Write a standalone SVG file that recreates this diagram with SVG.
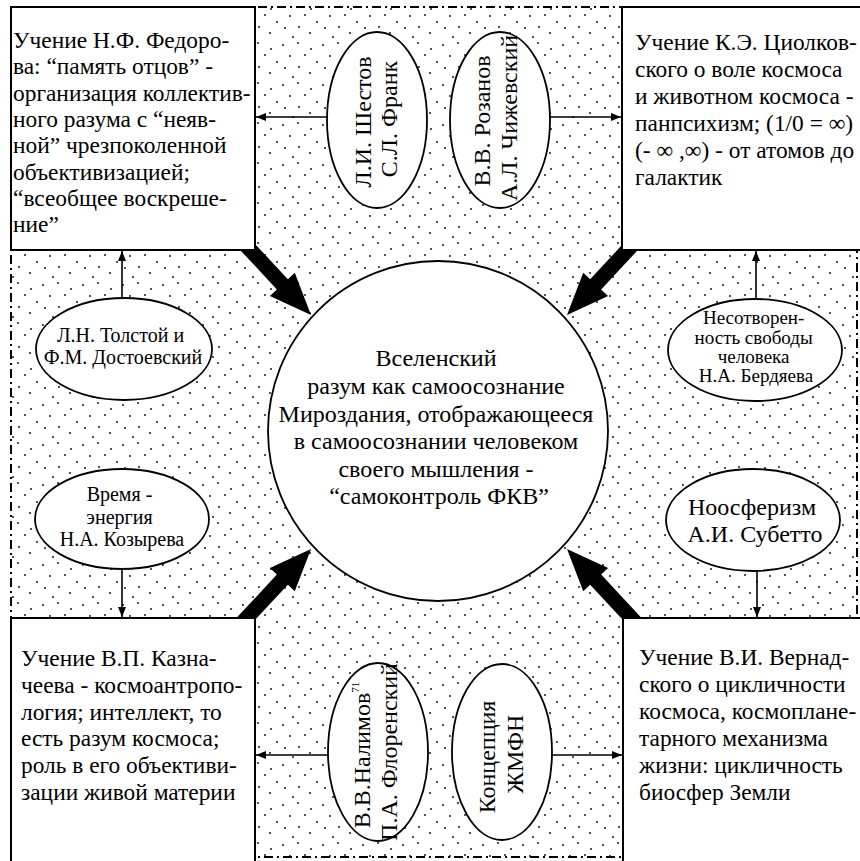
<svg xmlns="http://www.w3.org/2000/svg" xmlns:xlink="http://www.w3.org/1999/xlink" width="860" height="861" viewBox="0 0 860 861">
<style>
.box{fill:#fff;stroke:#000;stroke-width:2}
.ell{fill:#fff;stroke:#000;stroke-width:1.8}
.t{font-family:"Liberation Serif","Times New Roman",serif;fill:#000}
.b24{font-size:24px}
.bx{font-size:23.4px}
.b20{font-size:20px}
.b19{font-size:19px}
.mid{text-anchor:middle}
.thin{stroke:#000;stroke-width:1.6;fill:none;marker-end:url(#ah)}
.frame{fill:url(#dots);stroke:#000;stroke-width:2;stroke-dasharray:9 4 2 4}
</style>
<defs>
<pattern id="dots" patternUnits="userSpaceOnUse" width="40" height="40">
<g fill="#000">
<circle cx="3" cy="5" r="0.9"/><circle cx="18" cy="3" r="0.9"/><circle cx="31" cy="9" r="0.9"/>
<circle cx="10" cy="16" r="0.9"/><circle cx="25" cy="15" r="0.9"/><circle cx="37" cy="22" r="0.9"/>
<circle cx="5" cy="28" r="0.9"/><circle cx="19" cy="27" r="0.9"/><circle cx="30" cy="33" r="0.9"/>
<circle cx="13" cy="37" r="0.9"/>
</g>
</pattern>
<marker id="ah" markerUnits="userSpaceOnUse" markerWidth="10" markerHeight="8" refX="10" refY="4" orient="auto">
<path d="M0,0 L10,4 L0,8 Z" fill="#000"/>
</marker>
<path id="fat" d="M0,0 L-42,-17 L-42,-7.5 L-100,-7.5 L-100,7.5 L-42,7.5 L-42,17 Z" fill="#000"/>
</defs>
<rect width="860" height="861" fill="#fff"/>
<rect class="frame" x="11" y="7" width="846" height="850"/>

<g id="connectors">
<line class="thin" x1="327" y1="117" x2="256" y2="117"/>
<line class="thin" x1="550" y1="117" x2="621" y2="117"/>
<line class="thin" x1="328" y1="755" x2="256" y2="755"/>
<line class="thin" x1="552" y1="755" x2="622" y2="755"/>
<line class="thin" x1="122" y1="298" x2="122" y2="251"/>
<line class="thin" x1="122" y1="570" x2="122" y2="617"/>
<line class="thin" x1="756" y1="299" x2="756" y2="251"/>
<line class="thin" x1="757" y1="571" x2="757" y2="617"/>
<use href="#fat" transform="translate(311,315) rotate(47)"/>
<use href="#fat" transform="translate(567,315) rotate(133)"/>
<use href="#fat" transform="translate(311,549) rotate(-47)"/>
<use href="#fat" transform="translate(567,549) rotate(-133)"/>
</g>

<g id="node-fedorov">
<rect class="box" x="11" y="7" width="244" height="243"/>
<text class="t bx">
<tspan x="13" y="48">Учение Н.Ф. Федоро-</tspan>
<tspan x="13" y="74.3">ва: “память отцов” -</tspan>
<tspan x="13" y="100.6">организация коллектив-</tspan>
<tspan x="13" y="126.9">ного разума с “неяв-</tspan>
<tspan x="13" y="153.2">ной” чрезпоколенной</tspan>
<tspan x="13" y="179.5">объективизацией;</tspan>
<tspan x="13" y="205.8">“всеобщее воскреше-</tspan>
<tspan x="13" y="232">ние”</tspan>
</text>
</g>

<g id="node-tsiolkovsky">
<rect class="box" x="622" y="7" width="260" height="243"/>
<text class="t bx">
<tspan x="635" y="50">Учение К.Э. Циолков-</tspan>
<tspan x="635" y="77">ского о воле космоса</tspan>
<tspan x="635" y="104">и животном космоса -</tspan>
<tspan x="635" y="131">панпсихизм; (1/0 = ∞)</tspan>
<tspan x="635" y="158">(- ∞ ,∞) - от атомов до</tspan>
<tspan x="635" y="185">галактик</tspan>
</text>
</g>

<g id="node-kaznacheev">
<rect class="box" x="11" y="618" width="244" height="260"/>
<text class="t bx">
<tspan x="21" y="666">Учение В.П. Казна-</tspan>
<tspan x="21" y="693">чеева - космоантропо-</tspan>
<tspan x="21" y="719.5">логия; интеллект, то</tspan>
<tspan x="21" y="746">есть разум космоса;</tspan>
<tspan x="21" y="773">роль в его объективи-</tspan>
<tspan x="21" y="800">зации живой материи</tspan>
</text>
</g>

<g id="node-vernadsky">
<rect class="box" x="623" y="618" width="260" height="260"/>
<text class="t bx">
<tspan x="639" y="665">Учение В.И. Вернад-</tspan>
<tspan x="639" y="692">ского о цикличности</tspan>
<tspan x="639" y="719">космоса, космоплане-</tspan>
<tspan x="639" y="746">тарного механизма</tspan>
<tspan x="639" y="773">жизни: цикличность</tspan>
<tspan x="639" y="800">биосфер Земли</tspan>
</text>
</g>

<g id="node-center">
<circle class="ell" cx="438" cy="431" r="170"/>
<text class="t b24 mid">
<tspan x="439" y="366">Вселенский</tspan>
<tspan x="439" y="394">разум как самоосознание</tspan>
<tspan x="439" y="421.5">Мироздания, отображающееся</tspan>
<tspan x="439" y="449">в самоосознании человеком</tspan>
<tspan x="439" y="477">своего мышления -</tspan>
<tspan x="439" y="504">“самоконтроль ФКВ”</tspan>
</text>
</g>

<g id="node-shestov">
<ellipse class="ell" cx="377" cy="120" rx="50" ry="88"/>
<text class="t b24 mid" transform="translate(371,119) rotate(-90)">
<tspan x="0" y="0">Л.И. Шестов</tspan>
<tspan x="0" y="26">С.Л. Франк</tspan>
</text>
</g>

<g id="node-rozanov">
<ellipse class="ell" cx="500" cy="120" rx="50" ry="88"/>
<text class="t b24 mid" transform="translate(490,118) rotate(-90)">
<tspan x="0" y="0">В.В. Розанов</tspan>
<tspan x="0" y="27">А.Л. Чижевский</tspan>
</text>
</g>

<g id="node-nalimov">
<ellipse class="ell" cx="378" cy="752" rx="50" ry="89"/>
<text class="t b24 mid" transform="translate(370,752) rotate(-90)">
<tspan x="0" y="0">В.В.Налимов<tspan font-size="11" dy="-11">71</tspan></tspan>
<tspan x="0" y="27">П.А. Флоренский</tspan>
</text>
</g>

<g id="node-zhmfn">
<ellipse class="ell" cx="502" cy="752" rx="50" ry="88"/>
<text class="t b24 mid" transform="translate(495,754) rotate(-90)">
<tspan x="0" y="0">Концепция</tspan>
<tspan x="0" y="28">ЖМФН</tspan>
</text>
</g>

<g id="node-tolstoy">
<ellipse class="ell" cx="124" cy="349" rx="88" ry="51"/>
<text class="t b20 mid">
<tspan x="123" y="342">Л.Н. Толстой и</tspan>
<tspan x="123" y="364">Ф.М. Достоевский</tspan>
</text>
</g>

<g id="node-kozyrev">
<ellipse class="ell" cx="122" cy="519" rx="87" ry="50"/>
<text class="t b20 mid">
<tspan x="122" y="501">Время -</tspan>
<tspan x="122" y="523.5">энергия</tspan>
<tspan x="122" y="546">Н.А. Козырева</tspan>
</text>
</g>

<g id="node-berdyaev">
<ellipse class="ell" cx="755" cy="350" rx="87" ry="51"/>
<text class="t b19 mid">
<tspan x="756" y="324">Несотворен-</tspan>
<tspan x="756" y="343.5">ность свободы</tspan>
<tspan x="756" y="363">человека</tspan>
<tspan x="756" y="382">Н.А. Бердяева</tspan>
</text>
</g>

<g id="node-subetto">
<ellipse class="ell" cx="753" cy="520" rx="87" ry="51"/>
<text class="t b24 mid">
<tspan x="755" y="515">Ноосферизм</tspan>
<tspan x="755" y="542">А.И. Субетто</tspan>
</text>
</g>
</svg>
